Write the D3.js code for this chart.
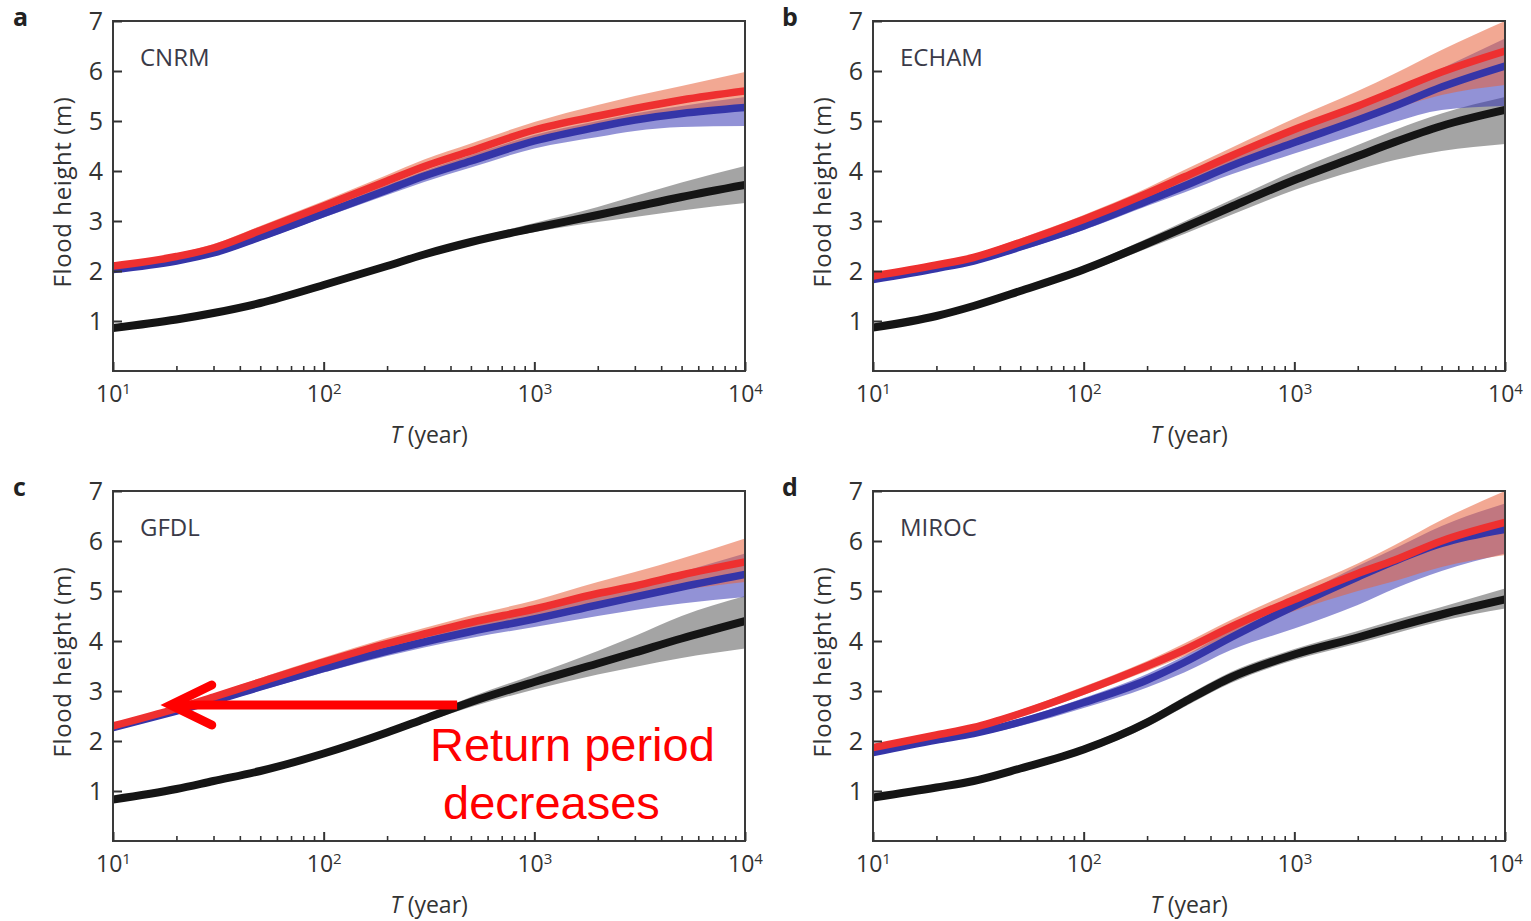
<!DOCTYPE html>
<html><head><meta charset="utf-8">
<script src="https://cdn.jsdelivr.net/npm/d3@7"></script>
<style>
body{margin:0;background:#fff}
svg{display:block;background:#fff}
.lbl{font-family:'Open Sans','DejaVu Sans',sans-serif}
.ann{font-family:'Liberation Sans',Arial,sans-serif}
</style>
</head><body>
<svg id="chart" width="1531" height="921"></svg>
<script>
// ---------- data ----------
const returnPeriods = [10, 20, 30, 50, 100, 200, 300, 500, 1000, 2000, 3000, 5000, 10000];
const yTickValues = [1, 2, 3, 4, 5, 6, 7];
const xMajorTicks = [10, 100, 1000, 10000];
const panelLetters = ['a', 'b', 'c', 'd'];
const modelNames = ['CNRM', 'ECHAM', 'GFDL', 'MIROC'];

// CNRM
const cnrmBlack   = [0.86,1.03,1.16,1.36,1.72,2.10,2.33,2.58,2.86,3.12,3.28,3.48,3.72];
const cnrmBlackLo = [0.81,0.98,1.11,1.31,1.67,2.05,2.28,2.52,2.78,2.98,3.08,3.21,3.36];
const cnrmBlackHi = [0.91,1.08,1.21,1.41,1.77,2.15,2.38,2.64,2.96,3.28,3.50,3.77,4.10];
const cnrmBlue    = [2.03,2.20,2.36,2.68,3.15,3.62,3.90,4.20,4.60,4.88,5.02,5.15,5.27];
const cnrmBlueLo  = [1.98,2.15,2.30,2.61,3.07,3.52,3.78,4.07,4.45,4.68,4.80,4.88,4.90];
const cnrmBlueHi  = [2.08,2.25,2.42,2.75,3.23,3.72,4.00,4.32,4.72,5.00,5.15,5.30,5.48];
const cnrmRed     = [2.10,2.29,2.46,2.81,3.30,3.80,4.09,4.40,4.82,5.10,5.25,5.42,5.60];
const cnrmRedLo   = [2.05,2.23,2.39,2.73,3.20,3.68,3.96,4.26,4.66,4.90,5.00,5.10,5.24];
const cnrmRedHi   = [2.15,2.35,2.54,2.90,3.40,3.92,4.23,4.55,4.98,5.32,5.50,5.70,5.98];

// ECHAM
const echamBlack   = [0.87,1.10,1.30,1.60,2.03,2.55,2.87,3.28,3.82,4.30,4.58,4.90,5.22];
const echamBlackLo = [0.82,1.05,1.25,1.54,1.96,2.45,2.74,3.12,3.62,4.02,4.22,4.40,4.54];
const echamBlackHi = [0.92,1.15,1.35,1.66,2.10,2.65,2.99,3.42,4.00,4.52,4.82,5.15,5.48];
const echamBlue    = [1.83,2.05,2.20,2.48,2.90,3.40,3.70,4.10,4.57,5.02,5.30,5.68,6.10];
const echamBlueLo  = [1.78,2.00,2.14,2.41,2.82,3.30,3.57,3.93,4.35,4.75,4.98,5.22,5.30];
const echamBlueHi  = [1.88,2.10,2.26,2.55,2.98,3.50,3.82,4.25,4.78,5.30,5.62,6.05,6.65];
const echamRed     = [1.90,2.12,2.27,2.57,3.03,3.55,3.88,4.30,4.83,5.30,5.60,5.98,6.40];
const echamRedLo   = [1.85,2.07,2.22,2.50,2.95,3.45,3.76,4.15,4.62,5.02,5.25,5.52,5.72];
const echamRedHi   = [1.95,2.17,2.33,2.65,3.12,3.66,4.02,4.46,5.05,5.60,5.95,6.42,7.00];

// GFDL
const gfdlBlack   = [0.83,1.04,1.20,1.40,1.75,2.17,2.44,2.78,3.18,3.55,3.77,4.05,4.40];
const gfdlBlackLo = [0.78,0.99,1.15,1.35,1.70,2.11,2.37,2.68,3.03,3.33,3.48,3.66,3.85];
const gfdlBlackHi = [0.88,1.09,1.25,1.45,1.80,2.23,2.51,2.88,3.33,3.80,4.10,4.50,4.90];
const gfdlBlue    = [2.27,2.60,2.80,3.08,3.45,3.80,3.98,4.19,4.44,4.72,4.88,5.08,5.33];
const gfdlBlueLo  = [2.22,2.55,2.74,3.01,3.37,3.70,3.87,4.06,4.28,4.50,4.62,4.75,4.88];
const gfdlBlueHi  = [2.32,2.65,2.86,3.15,3.53,3.90,4.09,4.31,4.59,4.92,5.12,5.38,5.75];
const gfdlRed     = [2.30,2.65,2.88,3.18,3.58,3.95,4.14,4.37,4.64,4.95,5.10,5.32,5.58];
const gfdlRedLo   = [2.25,2.60,2.82,3.11,3.50,3.85,4.03,4.24,4.49,4.75,4.86,5.02,5.18];
const gfdlRedHi   = [2.35,2.70,2.94,3.26,3.67,4.06,4.26,4.51,4.81,5.18,5.38,5.65,6.05];

// MIROC
const mirocBlack   = [0.87,1.07,1.20,1.45,1.83,2.37,2.78,3.27,3.73,4.07,4.28,4.53,4.83];
const mirocBlackLo = [0.82,1.02,1.15,1.39,1.76,2.28,2.68,3.16,3.62,3.95,4.15,4.40,4.65];
const mirocBlackHi = [0.92,1.12,1.25,1.51,1.90,2.46,2.88,3.38,3.84,4.20,4.42,4.68,5.05];
const mirocBlue    = [1.77,2.02,2.15,2.38,2.77,3.22,3.57,4.07,4.70,5.28,5.60,5.95,6.23];
const mirocBlueLo  = [1.72,1.97,2.09,2.30,2.66,3.07,3.37,3.82,4.25,4.72,5.05,5.40,5.75];
const mirocBlueHi  = [1.82,2.07,2.21,2.45,2.86,3.34,3.70,4.22,4.85,5.50,5.85,6.30,6.75];
const mirocRed     = [1.87,2.12,2.27,2.55,3.00,3.50,3.82,4.28,4.83,5.35,5.62,6.00,6.37];
const mirocRedLo   = [1.82,2.07,2.22,2.49,2.92,3.40,3.70,4.12,4.60,5.00,5.20,5.48,5.72];
const mirocRedHi   = [1.92,2.17,2.33,2.62,3.09,3.60,3.95,4.42,5.00,5.55,5.92,6.42,7.00];

// annotation (panel c)
const arrowStartT = 430, arrowEndT = 18.8, arrowHeight = 2.72;
const annotationLines = ['Return period', 'decreases'];

// ---------- build ----------
const panelSeries = [
  {black: cnrmBlack, blackLo: cnrmBlackLo, blackHi: cnrmBlackHi, blue: cnrmBlue, blueLo: cnrmBlueLo, blueHi: cnrmBlueHi, red: cnrmRed, redLo: cnrmRedLo, redHi: cnrmRedHi},
  {black: echamBlack, blackLo: echamBlackLo, blackHi: echamBlackHi, blue: echamBlue, blueLo: echamBlueLo, blueHi: echamBlueHi, red: echamRed, redLo: echamRedLo, redHi: echamRedHi},
  {black: gfdlBlack, blackLo: gfdlBlackLo, blackHi: gfdlBlackHi, blue: gfdlBlue, blueLo: gfdlBlueLo, blueHi: gfdlBlueHi, red: gfdlRed, redLo: gfdlRedLo, redHi: gfdlRedHi},
  {black: mirocBlack, blackLo: mirocBlackLo, blackHi: mirocBlackHi, blue: mirocBlue, blueLo: mirocBlueLo, blueHi: mirocBlueHi, red: mirocRed, redLo: mirocRedLo, redHi: mirocRedHi}
];

const W = 632, H = 350;
const origins = [[113, 21], [873, 21], [113, 491], [873, 491]];
const letterX = [13, 782, 13, 782];
const svg = d3.select('#chart');
const axisColor = '#333';

const minorTicks = [];
[10, 100, 1000].forEach(d => { for (let k = 2; k <= 9; k++) minorTicks.push(d * k); });

panelSeries.forEach((s, i) => {
  const [ox, oy] = origins[i];
  const g = svg.append('g').attr('transform', `translate(${ox},${oy})`);
  const x = d3.scaleLog().domain([10, 10000]).range([0, W]);
  const y = d3.scaleLinear().domain([0, 7]).range([H, 0]);

  svg.append('defs').append('clipPath').attr('id', 'clip' + i)
    .append('rect').attr('width', W).attr('height', H);
  const plot = g.append('g').attr('clip-path', `url(#clip${i})`);

  const rows = (lo, hi) => returnPeriods.map((t, j) => ({t, lo: lo[j], hi: hi[j]}));
  const pts = v => returnPeriods.map((t, j) => ({t, v: v[j]}));
  const area = d3.area().x(d => x(d.t)).y0(d => y(d.lo)).y1(d => y(d.hi)).curve(d3.curveMonotoneX);
  const line = d3.line().x(d => x(d.t)).y(d => y(d.v)).curve(d3.curveMonotoneX);

  plot.append('path').attr('d', area(rows(s.blackLo, s.blackHi))).attr('fill', '#4a4a4a').attr('fill-opacity', 0.5);
  plot.append('path').attr('d', line(pts(s.black))).attr('fill', 'none').attr('stroke', '#151515').attr('stroke-width', 8);
  plot.append('path').attr('d', area(rows(s.blueLo, s.blueHi))).attr('fill', '#2e2eb0').attr('fill-opacity', 0.52);
  plot.append('path').attr('d', area(rows(s.redLo, s.redHi))).attr('fill', '#e8603a').attr('fill-opacity', 0.55);
  plot.append('path').attr('d', line(pts(s.blue))).attr('fill', 'none').attr('stroke', '#3535a8').attr('stroke-width', 7.5);
  plot.append('path').attr('d', line(pts(s.red))).attr('fill', 'none').attr('stroke', '#ee3030').attr('stroke-width', 7.5);

  // frame
  g.append('rect').attr('width', W).attr('height', H).attr('fill', 'none')
    .attr('stroke', '#3a3a3a').attr('stroke-width', 2);

  // y axis
  const ya = g.append('g').call(d3.axisLeft(y).tickValues(yTickValues).tickSize(-9).tickPadding(10).tickFormat(d3.format('d')));
  ya.select('.domain').remove();
  ya.selectAll('line').attr('stroke', axisColor).attr('stroke-width', 2);
  ya.selectAll('text').attr('class', 'lbl').attr('font-size', 25).attr('fill', axisColor);

  // x axis minor
  const xm = g.append('g').attr('transform', `translate(0,${H})`)
    .call(d3.axisBottom(x).tickValues(minorTicks).tickSize(-5).tickFormat(() => ''));
  xm.select('.domain').remove();
  xm.selectAll('line').attr('stroke', axisColor).attr('stroke-width', 1.6);

  // x axis major
  const xa = g.append('g').attr('transform', `translate(0,${H})`)
    .call(d3.axisBottom(x).tickValues(xMajorTicks).tickSize(-9).tickPadding(15).tickFormat(() => ''));
  xa.select('.domain').remove();
  xa.selectAll('line').attr('stroke', axisColor).attr('stroke-width', 2);
  xa.selectAll('text').attr('class', 'lbl').attr('font-size', 23).attr('fill', axisColor)
    .each(function(d) {
      const t = d3.select(this);
      t.text(null);
      t.append('tspan').text('10');
      t.append('tspan').attr('font-size', 15).attr('dy', '-0.55em').text(String(Math.round(Math.log10(d))));
    });

  // axis titles
  g.append('text').attr('class', 'lbl').attr('transform', `translate(-52,${H / 2 - 4}) rotate(-90)`)
    .attr('text-anchor', 'middle').attr('dominant-baseline', 'central')
    .attr('font-size', 24).attr('letter-spacing', 0.6).attr('fill', axisColor).text('Flood height (m)');
  const xt = g.append('text').attr('class', 'lbl').attr('x', W / 2).attr('y', H + 72).attr('text-anchor', 'middle')
    .attr('font-size', 23).attr('fill', axisColor);
  xt.append('tspan').attr('font-style', 'italic').text('T');
  xt.append('tspan').text(' (year)');

  // model name
  g.append('text').attr('class', 'lbl').attr('x', 27).attr('y', 45).attr('font-size', 24).attr('fill', '#3a3a48').text(modelNames[i]);

  // panel letter
  svg.append('text').attr('class', 'lbl').attr('x', letterX[i]).attr('y', oy + 5).attr('font-size', 25)
    .attr('font-weight', 'bold').attr('fill', '#222').text(panelLetters[i]);

  // annotation in panel c
  if (i === 2) {
    const x0 = x(arrowStartT), x1 = x(arrowEndT), yy = y(arrowHeight);
    const ann = g.append('g');
    ann.append('line').attr('x1', x0).attr('x2', x1 + 6).attr('y1', yy).attr('y2', yy)
      .attr('stroke', '#ff0000').attr('stroke-width', 9);
    ann.append('path').attr('d', `M${x1 + 41},${yy - 20}L${x1},${yy}L${x1 + 41},${yy + 20}`)
      .attr('fill', 'none').attr('stroke', '#ff0000').attr('stroke-width', 9)
      .attr('stroke-linecap', 'round').attr('stroke-linejoin', 'miter');
    ann.append('text').attr('class', 'ann').attr('x', 317).attr('y', 270)
      .attr('font-size', 47).attr('fill', '#ff0000').text(annotationLines[0]);
    ann.append('text').attr('class', 'ann').attr('x', 330).attr('y', 328)
      .attr('font-size', 47).attr('fill', '#ff0000').text(annotationLines[1]);
  }
});
</script>
</body></html>
